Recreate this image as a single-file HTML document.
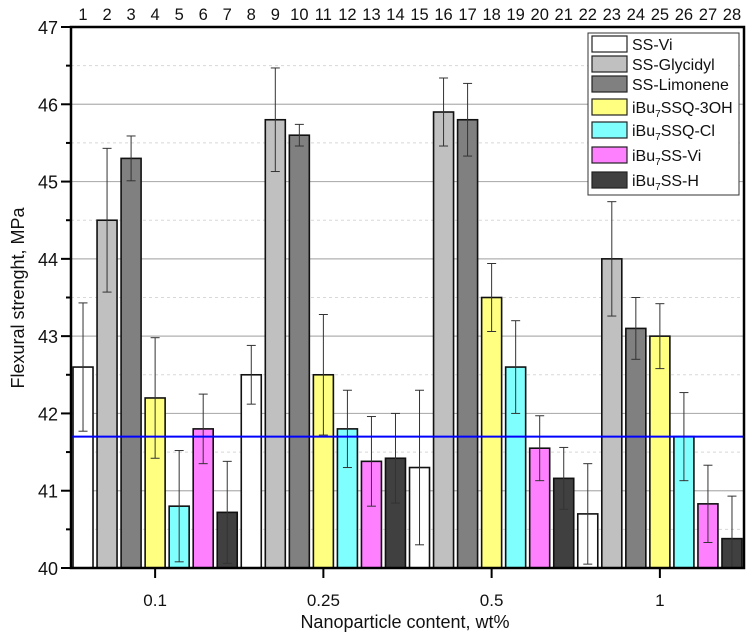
<!DOCTYPE html>
<html><head><meta charset="utf-8"><style>
body{margin:0;background:#fff}
svg text{font-family:"Liberation Sans",Arial,sans-serif;fill:#111}
</style></head><body>
<svg id="chart" width="750" height="637" viewBox="0 0 750 637" xmlns="http://www.w3.org/2000/svg">
<defs><clipPath id="plotclip"><rect x="71" y="27" width="673" height="541"/></clipPath></defs>
<g id="grid"></g>
<g id="bars" clip-path="url(#plotclip)"></g>
<g id="axes"></g>
<text transform="translate(24,298) rotate(-90)" text-anchor="middle" font-size="18">Flexural strenght, MPa</text>
<text x="405" y="628" text-anchor="middle" font-size="18">Nanoparticle content, wt%</text>
<g id="legend"></g>
</svg>
<script>
const groups = ["0.1","0.25","0.5","1"];
const seriesNames = ["SS-Vi","SS-Glycidyl","SS-Limonene","iBu7SSQ-3OH","iBu7SSQ-Cl","iBu7SS-Vi","iBu7SS-H"];
const values = [
 [42.6,44.5,45.3,42.2,40.8,41.8,40.72],
 [42.5,45.8,45.6,42.5,41.8,41.38,41.42],
 [41.3,45.9,45.8,43.5,42.6,41.55,41.16],
 [40.7,44.0,43.1,43.0,41.7,40.83,40.38]
];
const errors = [
 [0.83,0.93,0.29,0.78,0.72,0.45,0.66],
 [0.38,0.67,0.14,0.78,0.5,0.58,0.58],
 [1.0,0.44,0.47,0.44,0.6,0.42,0.4],
 [0.65,0.74,0.4,0.42,0.57,0.5,0.55]
];
const yTicks = [40,41,42,43,44,45,46,47];
const refLine = 41.7;
const colors = ["#ffffff","#c0c0c0","#808080","#ffff80","#80ffff","#ff80ff","#404040"];
const NS="http://www.w3.org/2000/svg";
const X0=71,X1=744,Y0=568,Y1=27,YMIN=40,YMAX=47;
const nSlots=groups.length*seriesNames.length, slot=(X1-X0)/nSlots;
function y(v){return Y0-(v-YMIN)/(YMAX-YMIN)*(Y0-Y1);}
function xc(i){return X0+slot*(i+0.5);}
function mk(tag,attrs,parent){const e=document.createElementNS(NS,tag);for(const k in attrs)e.setAttribute(k,attrs[k]);parent.appendChild(e);return e;}
const grid=document.getElementById('grid'),barsG=document.getElementById('bars'),axes=document.getElementById('axes'),leg=document.getElementById('legend');
yTicks.forEach((t,i)=>{
 if(t>YMIN&&t<YMAX){const l=mk('line',{x1:X0,x2:X1,y1:y(t),y2:y(t),stroke:'#b0b0b0','stroke-width':1.2},grid);
 
 }
 if(i<yTicks.length-1){const m=(t+yTicks[i+1])/2;const l=mk('line',{x1:X0,x2:X1,y1:y(m),y2:y(m),stroke:'#d8d8d8','stroke-width':1,'stroke-dasharray':'3,3'},grid);
 
 
 const mt=mk('line',{x1:X0-5,x2:X0,y1:y(m),y2:y(m),stroke:'#000','stroke-width':2},axes);
 
 }
 const tk=mk('line',{x1:X0-10,x2:X0,y1:y(t),y2:y(t),stroke:'#000','stroke-width':2},axes);
 
 
 const tx=mk('text',{x:X0-13,y:y(t)+7,'text-anchor':'end','font-size':18},axes);tx.textContent=t;
 
 
});
const bw=20;
values.forEach((row,g)=>{row.forEach((v,s)=>{
 const i=g*seriesNames.length+s,cx=xc(i);
 const r=mk('rect',{x:cx-bw/2,y:y(v),width:bw,height:Y0-y(v),fill:colors[s],stroke:'#111','stroke-width':1.6},barsG);
 
 
 const e=errors[g][s],eg=mk('g',{stroke:'#333','stroke-width':1},barsG);
 
 
 mk('line',{x1:cx,x2:cx,y1:y(v+e),y2:y(v-e)},eg);
 mk('line',{x1:cx-4.5,x2:cx+4.5,y1:y(v+e),y2:y(v+e)},eg);
 mk('line',{x1:cx-4.5,x2:cx+4.5,y1:y(v-e),y2:y(v-e)},eg);
 const tn=mk('text',{x:cx,y:20,'text-anchor':'middle','font-size':16.5},axes);tn.textContent=i+1;
 
 
});
 const gc=xc(g*seriesNames.length+3);
 const gt=mk('line',{x1:gc,x2:gc,y1:Y0,y2:Y0+10,stroke:'#000','stroke-width':2},axes);
 
 
 const gl=mk('text',{x:gc,y:Y0+38,'text-anchor':'middle','font-size':17},axes);gl.textContent=groups[g];
 
 
});
const rl=mk('line',{x1:X0,x2:X1,y1:y(refLine),y2:y(refLine),stroke:'#0000ff','stroke-width':2},barsG);


const frame=mk('rect',{x:X0,y:Y1,width:X1-X0,height:Y0-Y1,fill:'none',stroke:'#000','stroke-width':2.5},axes);


const lb=mk('rect',{x:588,y:33,width:151,height:162,fill:'#fff',stroke:'#333','stroke-width':1},leg);


const rows=[44,64,84,107,130,155,180];
seriesNames.forEach((n,s)=>{
 const sw=mk('rect',{x:592,y:rows[s]-8,width:35,height:16,fill:colors[s],stroke:'#222','stroke-width':1.2},leg);
 
 
 const t=mk('text',{x:632,y:rows[s]+6,'font-size':16},leg);
 
 
 const m=n.match(/^iBu7(.*)$/);
 if(m){t.appendChild(document.createTextNode('iBu'));const sub=mk('tspan',{'font-size':10,dy:4},t);sub.textContent='7';const rest=mk('tspan',{dy:-4},t);rest.textContent=m[1];}
 else t.textContent=n;
});
</script>
</body></html>
